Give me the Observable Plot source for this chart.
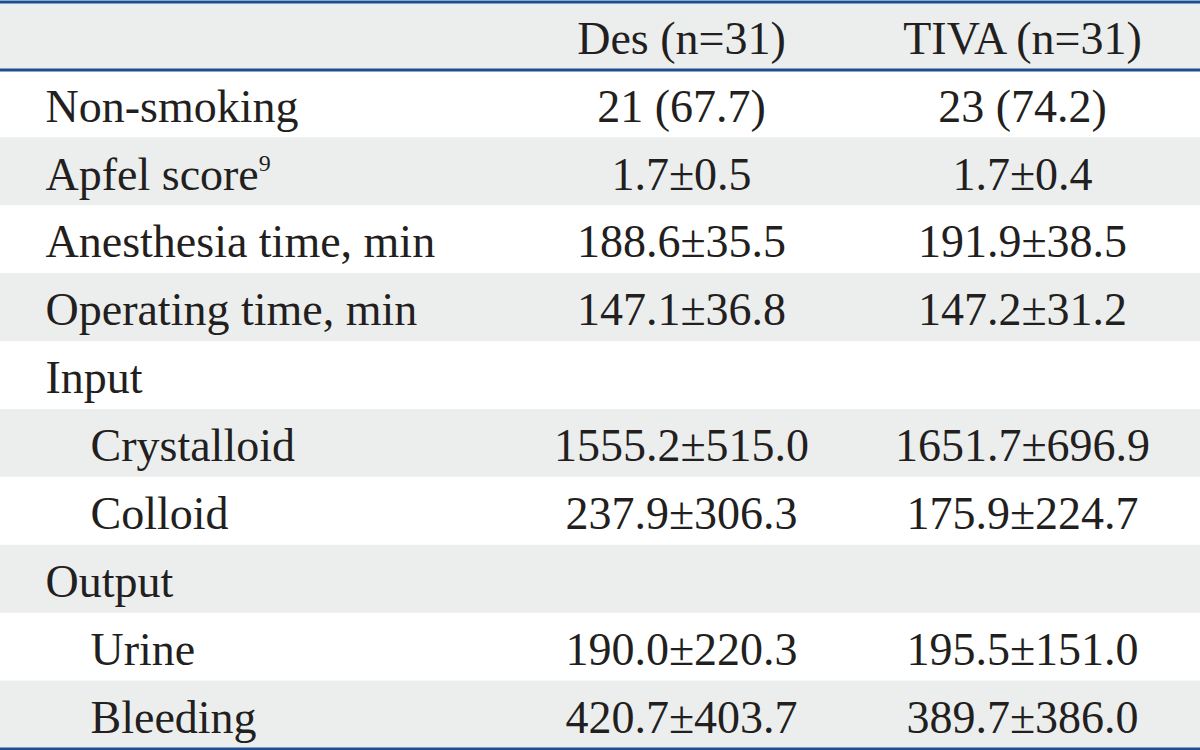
<!DOCTYPE html>
<html>
<head>
<meta charset="utf-8">
<script src="https://cdn.jsdelivr.net/npm/d3@7"></script>
<script src="https://cdn.jsdelivr.net/npm/@observablehq/plot@0.6"></script>
<style>
  html, body { margin: 0; padding: 0; background: #fff; }
  #chart svg { display: block; }
</style>
</head>
<body>
<div id="chart"></div>
<script>
// ---- data ----
const headers = ["Des (n=31)", "TIVA (n=31)"];
const labels = ["Non-smoking", "Apfel score", "Anesthesia time, min", "Operating time, min", "Input", "Crystalloid", "Colloid", "Output", "Urine", "Bleeding"];
const desValues = ["21 (67.7)", "1.7±0.5", "188.6±35.5", "147.1±36.8", "", "1555.2±515.0", "237.9±306.3", "", "190.0±220.3", "420.7±403.7"];
const tivaValues = ["23 (74.2)", "1.7±0.4", "191.9±38.5", "147.2±31.2", "", "1651.7±696.9", "175.9±224.7", "", "195.5±151.0", "389.7±386.0"];
const subRows = ["Crystalloid", "Colloid", "Urine", "Bleeding"];
const superscripts = {"Apfel score": "9"};

// ---- layout (table column anchors in x-scale units) ----
const colX = {label: 45, Des: 681, TIVA: 1022};
const tableW = 1200;

// ---- table rows (header row index 0) ----
const nRows = labels.length + 1;
const rows = labels.map((label, i) => ({row: i + 1, label, des: desValues[i], tiva: tivaValues[i], sub: subRows.includes(label)}));
const bands = d3.range(nRows).map(i => ({y1: i, y2: i + 1, shaded: i % 2 === 0}));
const headerCells = [
  {row: 0, col: "Des", text: headers[0]},
  {row: 0, col: "TIVA", text: headers[1]}
];
const valueCells = rows.flatMap(r => [
  {row: r.row, col: "Des", text: r.des},
  {row: r.row, col: "TIVA", text: r.tiva}
]).filter(d => d.text !== "");

const ink = "#231f20";
const font = "'Liberation Serif', 'Times New Roman', serif";
const fs = 46;

const chart = Plot.plot({
  width: 1200,
  height: 750,
  margin: 0,
  style: {fontFamily: font, background: "#fff", color: ink},
  x: {domain: [0, tableW], range: [0, 1200], axis: null},
  y: {domain: [0, nRows], range: [1.5, 748.5], axis: null},
  marks: [
    Plot.rect(bands.filter(d => d.shaded), {y1: "y1", y2: "y2", x1: () => 0, x2: () => tableW, fill: "#eceeee"}),
    Plot.ruleY([0, 1, nRows], {stroke: "#1c4f91", strokeWidth: 3}),
    Plot.text(headerCells, {x: d => colX[d.col], y: d => d.row + 0.5, text: "text", fontSize: fs, fill: ink, textAnchor: "middle", dy: 3}),
    Plot.text(rows.filter(d => !d.sub), {x: () => colX.label, y: d => d.row + 0.5, text: "label", fontSize: fs, fill: ink, textAnchor: "start", dy: 3}),
    Plot.text(rows.filter(d => d.sub), {x: () => colX.label, y: d => d.row + 0.5, text: "label", fontSize: fs, fill: ink, textAnchor: "start", dx: 45, dy: 3}),
    Plot.text(valueCells, {x: d => colX[d.col], y: d => d.row + 0.5, text: "text", fontSize: fs, fill: ink, textAnchor: "middle", dy: 3})
  ]
});

// superscript footnote markers as real text
d3.select(chart).selectAll("text").each(function() {
  const t = d3.select(this);
  const s = superscripts[t.text()];
  if (s) {
    t.append("tspan").attr("font-size", 24).attr("dy", -19).text(s);
  }
});

document.getElementById("chart").appendChild(chart);
</script>
</body>
</html>
